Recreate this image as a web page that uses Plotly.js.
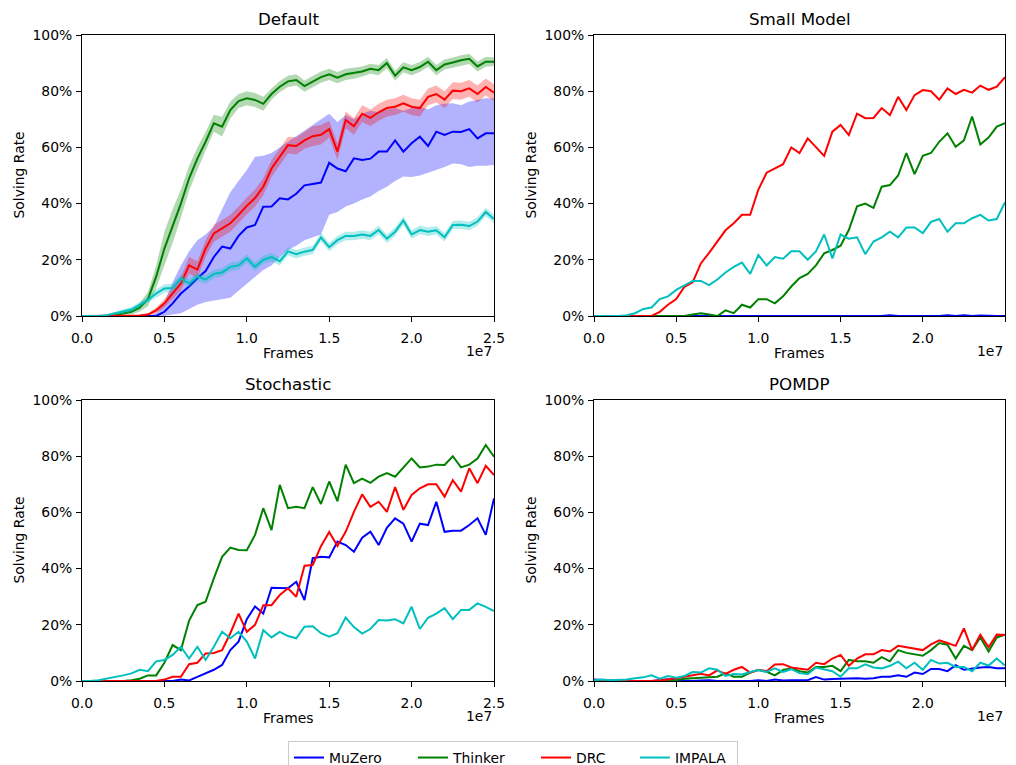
<!DOCTYPE html>
<html>
<head>
<meta charset="utf-8">
<script src="https://cdn.plot.ly/plotly-3.0.1.min.js"></script>
<style>html,body{margin:0;padding:0;background:#fff;overflow:hidden;}
#wrap{width:1016px;height:765px;overflow:hidden;position:relative;}</style>
</head>
<body>
<div id="wrap"><div id="chart" style="width:1016px;height:776px;"></div></div>
<script>
// ---------- data ----------
const frames = Array.from({length: 51}, (_, i) => i * 5e5);
const seriesNames = ['MuZero', 'Thinker', 'DRC', 'IMPALA'];
const panelTitles = ['Default', 'Small Model', 'Stochastic', 'POMDP'];
const xTickVals = [0, 5e6, 1e7, 1.5e7, 2e7, 2.5e7];
const xTickText = ['0.0', '0.5', '1.0', '1.5', '2.0', '2.5'];
const yTickVals = [0, 20, 40, 60, 80, 100];
const yTickText = ['0%', '20%', '40%', '60%', '80%', '100%'];

// Default
const defaultMuZero = [0,0,0,0,0,0,0,0,0,0,
  1.5,4.5,8,10.5,13.4,16,21,24.7,24,28.5,
  31.5,32.4,38.9,39,41.9,41.5,43.5,46.5,47,47.5,
  54.5,52.5,51.5,56.1,55.5,56,58.5,58.5,62.5,58.5,
  61.5,63.8,60.5,65.6,64.4,65.6,65.5,66.5,63.2,65,
  65];
const defaultMuZeroLow = [0,0,0,0,0,0,0,0,0,0,
  0,0.5,1,2.5,4,5,5.5,6,6.5,9,
  11.5,14,16.4,18,21,23.5,25,27,28,29,
  36,37,39,40,41.5,42.5,44.5,46,48,49.6,
  49.5,50,51,52,53,54.3,54,53,53.5,53.5,
  53.7];
const defaultMuZeroHigh = [0,0,0,0,0,0,0,0,0,1,
  5,12,18,23,27,29,31.8,38,44,48,
  52,56.7,57,58,60,62,64,66,68,70,
  72,69,71.5,70,72,73,72.5,73.5,74,73,
  74,74.5,73.5,75,75.5,75.7,75,76.3,76.8,77.5,
  77.5];
const defaultThinker = [0,0,0,0,0.3,1,1.5,3,6,14,
  24,32,40,49,56,62,68.6,67.4,73.3,76.5,
  77.5,76.9,75.5,79,81.6,83.5,84,81.8,83.4,85,
  86,84.8,86,86.4,87,88,87.5,90,85.5,88.5,
  87.5,88.6,90.5,87.5,89.5,90.2,91,91.5,88.8,90.5,
  90.5];
const defaultThinkerErr = [0,0,0,0,0.3,0.5,1,1.5,2.5,4,
  6,6,5,4.5,4,3.5,3,3.5,3,2.5,
  2.5,2.5,2.5,2,2,2,2,2,2,2,
  2,2,2,2,1.8,1.8,1.8,1.8,1.8,1.8,
  1.8,1.8,1.8,1.8,1.8,1.8,1.8,1.8,1.8,1.8,
  1.5];
const defaultDRC = [0,0,0,0,0,0,0,0.2,0.5,2,
  4.5,8,11.6,18,16.5,24,29.4,31.2,33,36,
  39.2,42,46,52.5,56.7,60.8,60.5,62.5,64,64.5,
  66.5,58.5,69.8,67.5,72,70.5,72.5,74,74.5,75.7,
  74.5,74,78,79,77,80.2,80,81,79,81.5,
  79.5];
const defaultDRCErr = [0,0,0,0,0,0,0,0.2,0.5,1,
  1.5,2,2.5,3,3,3,3,3,3,3,
  3,3,3,3,3,3,3,3,3.5,3.5,
  3,3,3,3,3,3,3,3,3,3,
  3,3,3,3,3,3,3,3,3,3,
  3];
const defaultIMPALA = [0,0,0,0.3,1,1.5,2.3,4,5.7,8,
  9.8,10,13.4,11.6,14,13,15,15.5,17.5,18,
  20.5,17.5,20,21,19.5,23,22,22.9,23.5,28,
  24.5,27,28.5,28.5,29,28.5,30.6,27.5,30,34,
  29,30.6,30,30.5,28,32.4,32.5,32,33.6,37,
  34.5];
const defaultIMPALAErr = [0,0,0,0.3,0.5,0.8,1,1,1.2,1.5,
  1.5,1.5,1.5,1.5,1.5,1.5,1.5,1.5,1.5,1.5,
  1.5,1.5,1.5,1.5,1.5,1.5,1.5,1.5,1.5,1.5,
  1.5,1.5,1.5,1.5,1.5,1.5,1.5,1.5,1.5,1.5,
  1.5,1.5,1.5,1.5,1.5,1.5,1.5,1.5,1.5,1.5,
  1.5];

// Small Model
const smallMuZero = [0,0,0,0,0,0,0,0,0,0,
  0,0,0,0,0,0,0,0,0,0,
  0,0,0,0,0.2,0,0,0,0,0,
  0,0.2,0,0,0,0,0.3,0,0,0,
  0.2,0,0,0.3,0,0.3,0,0.2,0,0,
  0];
const smallThinker = [0,0,0,0,0,0,0,0,0,0,
  0,0,0.5,1,0.5,0,2,1,4,3,
  6,6,4.5,7,10.5,13.5,15,18,22.3,23.5,
  25,30.6,39,40,38.5,46,46.6,50,58,50.5,
  57,58,62,65,60.2,62.5,71,61,63.5,67.4,
  68.6];
const smallDRC = [0,0,0,0,0,0,0,0,1.5,4,
  6,10.4,12,18.7,22.5,26.5,30.5,33,36,36,
  45,51,52.5,54,60,58,63.2,60,57,65.6,
  68,64.4,72,70.4,70.5,74,71.5,78,73.3,78.6,
  80.4,80,77,81,79,80.5,79.5,82,80.5,81.6,
  85];
const smallIMPALA = [0,0,0,0,0.3,1,2.5,3,6,7,
  9.3,11,12.5,12.5,11,13,15.5,17.5,19,15,
  21.7,18,21,20.4,23,23,20,23,29,20.5,
  29,27.5,28,22,26.5,28,30,28,31.5,31.5,
  29.5,33.5,34.5,30,33,33,34.8,36,34,34.5,
  40.5];

// Stochastic
const stochMuZero = [0,0,0,0,0,0,0,0,0,0,
  0,0,0.5,0.2,1.5,2.7,4,5.7,11,14,
  22,26.5,24,33.2,33,33,35.3,28.8,43.7,44.2,
  44,49.6,48.4,46,51,53.1,48.4,54.5,57.9,56,
  49.6,56,55.5,63.8,53.1,53.5,53.5,55.5,57.9,52,
  65];
const stochThinker = [0,0,0,0,0,0,0.3,0.8,2,2,
  6.5,12.8,11,21.5,27,28.2,36.5,44.2,47.5,46.6,
  46.5,52,61.5,53.7,69.8,61.5,62,61.5,69,63,
  71,64,77,70.4,72,70.5,72.7,74,72.7,76,
  79.2,76,76.3,77,76.9,80,76,77,79.2,84,
  79.8];
const stochDRC = [0,0,0,0,0,0,0,0,0,0,
  0.5,1.5,1.5,6,6.5,9.8,10,11,17,24,
  17.5,20,27,27,30.6,33,30,41,41.3,48,
  53,48,53.1,60.2,66.4,62,63.8,60.2,69,60.9,
  66.2,68.6,70,70,65.6,71.5,67.4,75.7,70.4,76.6,
  73.3];
const stochIMPALA = [0,0,0.3,0.8,1.5,2,2.7,4,3.5,7,
  7.5,9.3,12.2,8,12.2,7.5,12.2,17.5,15.2,17.5,
  14,8,18.1,15.5,17.5,16,15.2,19.3,19.5,17,
  15.8,17,22.6,19.2,16.9,18.5,21.7,21.5,22,20.5,
  26.4,18.5,22.5,24,25.9,22,25.3,25.3,27.6,26.4,
  24.9];

// POMDP
const pomdpMuZero = [0.5,0.3,0,0,0,0,0,0,0.3,0.6,
  0.2,0,0,0.2,0.3,0,0,0,0.2,0,
  0.3,0,0.5,0.2,0.3,0.2,0.3,1.4,0.5,0.7,
  0.8,0.7,1,0.8,1,1.5,1.5,2,1.5,3,
  2.5,4.3,4.3,3.5,5.6,4,4.5,4.8,5,4.5,
  4.5];
const pomdpThinker = [0,0,0,0,0,0,0,0,0,0,
  0.3,0.8,1,1.2,1.3,1.5,2.7,1.5,1.5,3,
  3.9,3.3,2,3.9,4.5,3.5,3,5,5,5.4,
  3.5,7.5,7,7,6.5,8.5,7,11,10,9.5,
  9,11,13.5,12.9,8,12.5,11,15.5,10.5,15.5,
  16.5];
const pomdpDRC = [0,0,0,0,0,0,0,0,0.3,0.5,
  1,1.5,2,2.6,2,3.8,2.5,4,5,3,
  4,3.5,5.9,6,4.8,4.5,4,6.5,6,8,
  9.3,5.4,8,9.5,9.5,11,10.5,12.5,12,11.5,
  11,13,14.5,13.5,12.5,18.7,11,16.5,12,16.5,
  16.4];
const pomdpIMPALA = [0.3,0.5,0.3,0.3,0.5,1,1.3,2,0.8,1.8,
  1.2,1.8,3.2,3,4.5,4,1.8,2.5,2.3,3.2,
  3.9,3.2,4.5,3.2,4.2,2.8,2.4,4.8,4.2,3.5,
  1.5,4.5,4.5,5.9,4.8,4.5,5.4,6.9,4.5,6.5,
  4,7.5,6.2,6.5,5,5,3.5,6.5,5.5,8,
  5.5];

// ---------- styling ----------
const colors = {MuZero: '#0000ff', Thinker: '#008000', DRC: '#ff0000', IMPALA: '#00bfbf'};
const bandColors = {MuZero: 'rgba(0,0,255,0.3)', Thinker: 'rgba(0,128,0,0.3)', DRC: 'rgba(255,0,0,0.3)', IMPALA: 'rgba(0,191,191,0.3)'};
const legendWidths = {MuZero: 79, Thinker: 78, DRC: 54, IMPALA: 57};
const FONT = 'DejaVu Sans, Liberation Sans, sans-serif';

const panels = [
  {xa: 'x', ya: 'y', lines: [defaultMuZero, defaultThinker, defaultDRC, defaultIMPALA],
   bands: [
     [defaultMuZeroLow, defaultMuZeroHigh],
     [defaultThinker.map((v, i) => v - defaultThinkerErr[i]), defaultThinker.map((v, i) => v + defaultThinkerErr[i])],
     [defaultDRC.map((v, i) => v - defaultDRCErr[i]), defaultDRC.map((v, i) => v + defaultDRCErr[i])],
     [defaultIMPALA.map((v, i) => v - defaultIMPALAErr[i]), defaultIMPALA.map((v, i) => v + defaultIMPALAErr[i])]
   ]},
  {xa: 'x2', ya: 'y2', lines: [smallMuZero, smallThinker, smallDRC, smallIMPALA]},
  {xa: 'x3', ya: 'y3', lines: [stochMuZero, stochThinker, stochDRC, stochIMPALA]},
  {xa: 'x4', ya: 'y4', lines: [pomdpMuZero, pomdpThinker, pomdpDRC, pomdpIMPALA]}
];

const traces = [];
panels.forEach((p, pi) => {
  seriesNames.forEach((name, si) => {
    if (p.bands) {
      const [lo, hi] = p.bands[si];
      traces.push({x: frames, y: lo, xaxis: p.xa, yaxis: p.ya, type: 'scatter', mode: 'lines',
        line: {width: 0, color: bandColors[name]}, showlegend: false, hoverinfo: 'skip'});
      traces.push({x: frames, y: hi, xaxis: p.xa, yaxis: p.ya, type: 'scatter', mode: 'lines',
        line: {width: 0, color: bandColors[name]}, fill: 'tonexty', fillcolor: bandColors[name],
        showlegend: false, hoverinfo: 'skip'});
    }
    traces.push({x: frames, y: p.lines[si], xaxis: p.xa, yaxis: p.ya, type: 'scatter', mode: 'lines',
      name: name, legendgroup: name, showlegend: pi === 0, legendwidth: legendWidths[name],
      line: {color: colors[name], width: 2}});
  });
});

const W = 1016, H = 776;
const colDomains = [[82 / W, 494 / W], [594 / W, 1005 / W]];
const rowDomains = [[1 - 316 / H, 1 - 35 / H], [1 - 681 / H, 1 - 400 / H]];

function xAxis(dom, anchor) {
  return {domain: dom, anchor: anchor, range: [0, 2.5e7], tickmode: 'array', tickvals: xTickVals, ticktext: xTickText,
    showline: true, mirror: true, linecolor: '#000', linewidth: 1, ticks: 'outside', ticklen: 5,
    tickwidth: 1, tickcolor: '#000', showgrid: false, zeroline: false, ticklabelstandoff: 4,
    tickfont: {family: FONT, size: 13.9, color: '#000'}, fixedrange: true};
}
function yAxis(dom, anchor) {
  return {domain: dom, anchor: anchor, range: [0, 100], tickmode: 'array', tickvals: yTickVals, ticktext: yTickText,
    showline: true, mirror: true, linecolor: '#000', linewidth: 1, ticks: 'outside', ticklen: 5,
    tickwidth: 1, tickcolor: '#000', showgrid: false, zeroline: false, ticklabelstandoff: 1,
    tickfont: {family: FONT, size: 13.9, color: '#000'}, fixedrange: true};
}

const layout = {
  width: W, height: H, autosize: false,
  margin: {l: 0, r: 0, t: 0, b: 0},
  paper_bgcolor: '#fff', plot_bgcolor: '#fff',
  font: {family: FONT, size: 13.9, color: '#000'},
  xaxis: xAxis(colDomains[0], 'y'), yaxis: yAxis(rowDomains[0], 'x'),
  xaxis2: xAxis(colDomains[1], 'y2'), yaxis2: yAxis(rowDomains[0], 'x2'),
  xaxis3: xAxis(colDomains[0], 'y3'), yaxis3: yAxis(rowDomains[1], 'x3'),
  xaxis4: xAxis(colDomains[1], 'y4'), yaxis4: yAxis(rowDomains[1], 'x4'),
  showlegend: true,
  legend: {orientation: 'h', x: 288 / W, xanchor: 'left', y: 1 - 741 / H, yanchor: 'top',
    bordercolor: '#cccccc', borderwidth: 1, bgcolor: '#fff',
    font: {family: FONT, size: 13.9, color: '#000'}, traceorder: 'normal'},
  annotations: []
};

const axisIds = [['x', 'y'], ['x2', 'y2'], ['x3', 'y3'], ['x4', 'y4']];
axisIds.forEach(([xa, ya], i) => {
  layout.annotations.push({text: panelTitles[i], xref: xa + ' domain', yref: ya + ' domain',
    x: 0.5, y: 1, xanchor: 'center', yanchor: 'middle', yshift: 16, showarrow: false,
    font: {family: FONT, size: 16.7, color: '#000'}});
  layout.annotations.push({text: 'Frames', xref: xa + ' domain', yref: ya + ' domain',
    x: 0.5, y: 0, xanchor: 'center', yanchor: 'middle', yshift: -37, showarrow: false,
    font: {family: FONT, size: 13.9, color: '#000'}});
  layout.annotations.push({text: '1e7', xref: xa + ' domain', yref: ya + ' domain',
    x: 1, y: 0, xanchor: 'right', yanchor: 'middle', yshift: -35, showarrow: false,
    font: {family: FONT, size: 13.9, color: '#000'}});
  layout.annotations.push({text: 'Solving Rate', xref: xa + ' domain', yref: ya + ' domain',
    x: 0, y: 0.5, xanchor: 'center', yanchor: 'middle', xshift: -64, textangle: -90, showarrow: false,
    font: {family: FONT, size: 13.9, color: '#000'}});
});

Plotly.newPlot('chart', traces, layout, {displayModeBar: false, staticPlot: true});
</script>
</body>
</html>
